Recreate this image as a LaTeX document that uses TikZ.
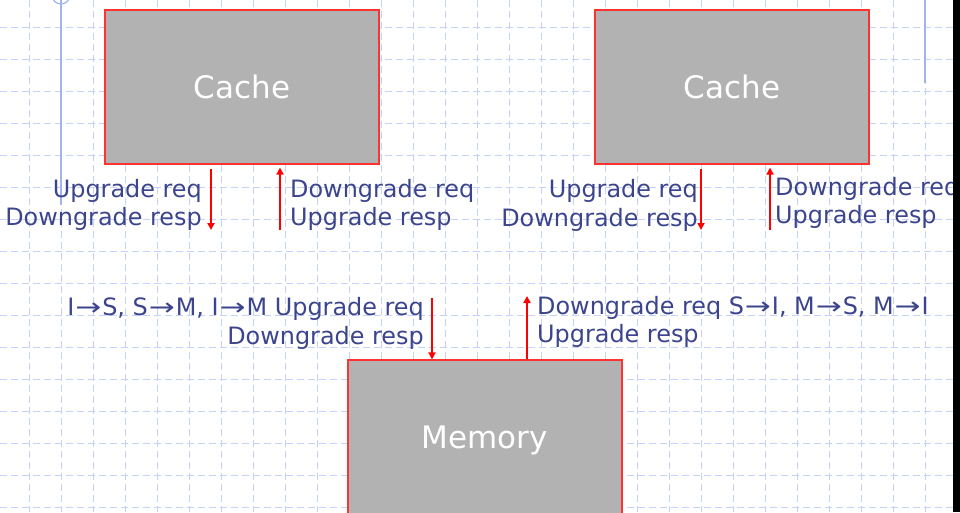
\documentclass[tikz,border=0pt]{standalone}
\usepackage{fontspec}
\usepackage{graphicx}
\setmainfont{DejaVu Sans}
\usetikzlibrary{arrows.meta}
\definecolor{rejilla}{RGB}{196,210,250}
\definecolor{azultexto}{RGB}{59,68,140}
\definecolor{gris}{RGB}{178,178,178}
\definecolor{rojo}{RGB}{255,50,50}
\definecolor{guia}{RGB}{160,180,242}
\newcommand{\flecha}{\makebox[1.17em]{\scalebox{1.3}[1]{→}}}
\tikzset{
  caja/.style={draw=rojo, fill=gris, line width=1.2pt, minimum width=274pt, minimum height=154pt, inner sep=0pt, text depth=0pt, text=white, font=\fontsize{31}{36}\selectfont},
  etiqueta/.style={text=azultexto, font=\fontsize{23.9}{28.5}\selectfont, inner sep=0pt},
  senal/.style={draw=red, line width=2pt, -{Triangle[width=7pt,length=7pt]}},
  linearejilla/.style={draw=rejilla, line width=1pt, dash pattern=on 7pt off 4pt}
}
\begin{document}
\begin{tikzpicture}[x=1pt,y=-1pt]
                % Fondo
                \useasboundingbox (0,0) rectangle (960,512);
                \fill[white] (0,0) rectangle (960,512);
                % Rejilla
                \foreach \i in {0,...,29} \draw[linearejilla] (29+32*\i,0) -- (29+32*\i,512);
                \foreach \j in {0,...,15} \draw[linearejilla] (0,27+32*\j) -- (960,27+32*\j);
                % Guias azules
                \draw[guia, line width=1.5pt] (61,0) -- (61,205);
                \draw[guia, line width=1.2pt] (61,-5) circle (9);
                \draw[guia, line width=2pt] (925,0) -- (925,83);

                % Caches y memoria
                \node[caja] (cacheA) at (242,87) {Cache};
                \node[caja] (cacheB) at (732,87) {Cache};
                \node[caja] (memoria) at (485,437) {Memory};

                % Etiquetas de la cache A
                \node[etiqueta, align=right, anchor=east] (etqA1) at (202,205) {Upgrade req\\Downgrade resp};
                \node[etiqueta, align=left, anchor=west] (etqA2) at (290,205) {Downgrade req\\Upgrade resp};
                % Etiquetas de la cache B
                \node[etiqueta, align=right, anchor=east] (etqB1) at (698,205.5) {Upgrade req\\Downgrade resp};
                \node[etiqueta, align=left, anchor=west] (etqB2) at (775,203) {Downgrade req\\Upgrade resp};
                % Etiquetas de la memoria
                \node[etiqueta, align=right, anchor=east] (etqM1) at (424,323.5) {I\flecha S, S\flecha M, I\flecha M Upgrade req\\Downgrade resp};
                \node[etiqueta, align=left, anchor=west] (etqM2) at (537,322) {Downgrade req S\flecha I, M\flecha S, M\flecha I\\Upgrade resp};

                % Flechas
                \coordinate (finA) at (211,230);
                \coordinate (iniA) at (280,230);
                \coordinate (finB) at (701,230);
                \coordinate (iniB) at (770,230);
                \coordinate (iniM) at (432,298);
                \coordinate (finM) at (527,296);
                \draw[senal, shorten <=4pt] (cacheA.south -| finA) -- (finA);
                \draw[senal, shorten >=3pt] (iniA) -- (cacheA.south -| iniA);
                \draw[senal, shorten <=4pt] (cacheB.south -| finB) -- (finB);
                \draw[senal, shorten >=3pt] (iniB) -- (cacheB.south -| iniB);
                \draw[senal] (iniM) -- (memoria.north -| iniM);
                \draw[senal] (memoria.north -| finM) -- (finM);

                % Borde derecho
                \fill[black] (953,0) rectangle (960,512);
\end{tikzpicture}
\end{document}
